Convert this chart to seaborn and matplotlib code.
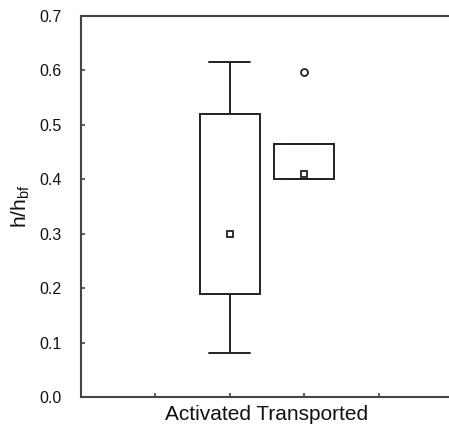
import pandas as pd
import numpy as np
import matplotlib
matplotlib.use('Agg')
import matplotlib.pyplot as plt
import seaborn as sns

# values
groups = ['Activated', 'Transported']
activated = [0.08, 0.19, 0.30, 0.52, 0.615]
transported = [0.40, 0.40, 0.41, 0.465, 0.597]

df = pd.DataFrame({
    'group': [groups[0]] * len(activated) + [groups[1]] * len(transported),
    'ratio': activated + transported,
})

sns.set_style('white')
plt.rcParams['font.family'] = ['Liberation Sans', 'DejaVu Sans']

fig = plt.figure(figsize=(4.49, 4.29), dpi=100)
ax = fig.add_axes([81 / 449, 32 / 429, (453 - 81) / 449, (397 - 16) / 429])

ink = '#222222'
sns.boxplot(data=df, x='group', y='ratio', ax=ax, width=0.8, whis=1.5,
            color='white', linecolor=ink, linewidth=1.4, capwidths=0.55,
            medianprops={'visible': False},
            flierprops={'marker': 'o', 'markersize': 5, 'markerfacecolor': 'white',
                        'markeredgecolor': ink, 'markeredgewidth': 1.3})
# median shown as small open square
sns.pointplot(data=df, x='group', y='ratio', ax=ax, estimator='median',
              errorbar=None, markers='s', linestyle='none', color=ink,
              markersize=5, markerfacecolor='white', markeredgecolor=ink,
              markeredgewidth=1.3)

ax.set_xlim(-2, 3)
ax.set_ylim(0, 0.7)
ax.set_xticks([-2, -1, 0, 1, 2, 3])
ax.set_xticklabels([])
ax.set_yticks(np.arange(0, 0.71, 0.1))
ax.set_yticklabels([f'{v:.1f}' for v in np.arange(0, 0.71, 0.1)])
ax.tick_params(direction='in', length=3, width=1.2, color='#444444', labelsize=11.5,
               labelcolor='#111111', bottom=True, left=True)
ax.tick_params(axis='y', pad=14)
ax.tick_params(axis='x', pad=2)
for s in ax.spines.values():
    s.set_color('#444444')
    s.set_linewidth(1.5)

ax.set_xlabel('Activated Transported', fontsize=15, labelpad=4, color='#111111')
ax.set_ylabel('h/h$_\\mathregular{bf}$', fontsize=15, labelpad=5, color='#111111')

fig.savefig('out.png', dpi=100)
